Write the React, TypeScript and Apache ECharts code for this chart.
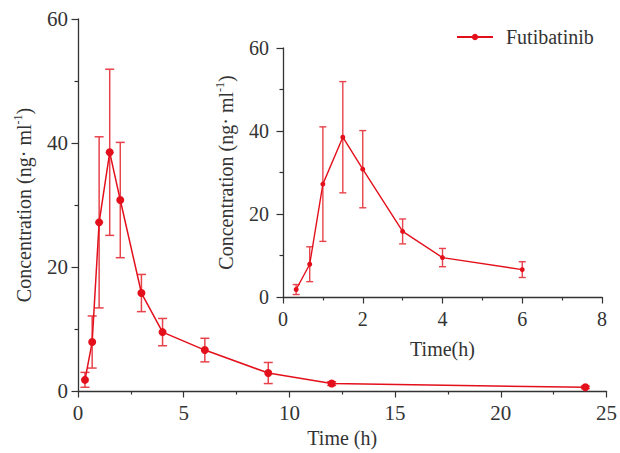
import React, { useEffect, useRef } from "react";
import * as echarts from "echarts";

const seriesName = "Futibatinib";
const timeH = [0.33, 0.67, 1, 1.5, 2, 3, 4, 6, 9, 12, 24];
const meanConc = [1.8, 7.9, 27.2, 38.5, 30.8, 15.8, 9.5, 6.6, 2.9, 1.2, 0.6];
const sdConc = [1.2, 4.2, 13.8, 13.4, 9.3, 3.0, 2.2, 1.9, 1.7, 0.3, 0.2];
const insetCount = 8; // points shown in inset (up to 6 h)

const FONT = "'Liberation Serif', 'DejaVu Serif', serif";
const RED = "#e3101c";
const ERR = "#e8434b";
const AX = "#333333";

function errRender(capHalf: number, width: number) {
  return (params: any, api: any) => {
    const x = api.value(0);
    const lo = api.coord([x, api.value(1)]);
    const hi = api.coord([x, api.value(2)]);
    const st = { stroke: ERR, lineWidth: width };
    return {
      type: "group",
      children: [
        { type: "line", shape: { x1: lo[0], y1: lo[1], x2: hi[0], y2: hi[1] }, style: st },
        { type: "line", shape: { x1: lo[0] - capHalf, y1: lo[1], x2: lo[0] + capHalf, y2: lo[1] }, style: st },
        { type: "line", shape: { x1: hi[0] - capHalf, y1: hi[1], x2: hi[0] + capHalf, y2: hi[1] }, style: st },
      ],
    };
  };
}

function axisCommon(interval: number, max: number, fontSize: number, margin: number) {
  return {
    type: "value" as const,
    min: 0,
    max,
    interval,
    splitLine: { show: false },
    axisLine: { show: true, onZero: false, lineStyle: { color: AX, width: 1.3 } },
    axisTick: { show: true, length: 6.5, lineStyle: { color: AX, width: 1.2 } },
    minorTick: { show: true, splitNumber: 2, length: 3.5, lineStyle: { color: AX, width: 1.2 } },
    minorSplitLine: { show: false },
    axisLabel: { color: AX, fontFamily: FONT, fontSize, margin },
  };
}

const nameStyle = { fontFamily: FONT, fontSize: 20, color: AX, fontWeight: "normal" };
const yNameRich = {
  a: { fontFamily: FONT, fontSize: 20, color: AX, fontWeight: "normal", lineHeight: 24 },
  s: { fontFamily: FONT, fontSize: 12, color: AX, fontWeight: "normal", verticalAlign: "top", lineHeight: 24, padding: [0, 0, 9, 0] },
};
const yName = "{a|Concentration (ng· ml}{s|-1}{a|)}";

export default function App() {
  const ref = useRef<HTMLDivElement>(null);
  useEffect(() => {
    if (!ref.current) return;
    const chart = echarts.init(ref.current, undefined, { renderer: "svg" });
    const mainLine = timeH.map((t, i) => [t, meanConc[i]]);
    const mainErr = timeH.map((t, i) => [t, meanConc[i] - sdConc[i], meanConc[i] + sdConc[i]]);
    const inLine = mainLine.slice(0, insetCount);
    const inErr = mainErr.slice(0, insetCount);

    chart.setOption({
      animation: false,
      backgroundColor: "#ffffff",
      legend: {
        data: [seriesName],
        left: 456,
        top: 27,
        padding: 0,
        itemWidth: 36,
        itemHeight: 8,
        textStyle: { fontFamily: FONT, fontSize: 20, color: AX, padding: [0, 0, 0, 8] },
      },
      grid: [
        { left: 78, right: 12, top: 19, bottom: 62 },
        { left: 283, right: 18, top: 48, bottom: 156 },
      ],
      xAxis: [
        {
          ...axisCommon(5, 25, 21, 11),
          gridIndex: 0,
          name: "Time (h)",
          nameLocation: "middle",
          nameGap: 35,
          nameTextStyle: nameStyle,
        },
        {
          ...axisCommon(2, 8, 20, 12),
          gridIndex: 1,
          name: "Time(h)",
          nameLocation: "middle",
          nameGap: 42,
          nameTextStyle: nameStyle,
        },
      ],
      yAxis: [
        {
          ...axisCommon(20, 60, 21, 10),
          gridIndex: 0,
          name: yName,
          nameLocation: "middle",
          nameGap: 42,
          nameTextStyle: { rich: yNameRich },
        },
        {
          ...axisCommon(20, 60, 20, 14),
          gridIndex: 1,
          name: yName,
          nameLocation: "middle",
          nameGap: 45,
          nameTextStyle: { rich: yNameRich },
        },
      ],
      series: [
        {
          type: "custom",
          xAxisIndex: 0,
          yAxisIndex: 0,
          renderItem: errRender(4.5, 1.5),
          data: mainErr,
          z: 1,
          silent: true,
        },
        {
          name: seriesName,
          type: "line",
          xAxisIndex: 0,
          yAxisIndex: 0,
          data: mainLine,
          symbol: "circle",
          symbolSize: 8,
          itemStyle: { color: RED },
          lineStyle: { color: RED, width: 1.5 },
          z: 2,
        },
        {
          type: "custom",
          xAxisIndex: 1,
          yAxisIndex: 1,
          renderItem: errRender(3.5, 1.4),
          data: inErr,
          z: 1,
          silent: true,
        },
        {
          name: seriesName + " inset",
          type: "line",
          xAxisIndex: 1,
          yAxisIndex: 1,
          data: inLine,
          symbol: "circle",
          symbolSize: 5,
          itemStyle: { color: RED },
          lineStyle: { color: RED, width: 1.4 },
          z: 2,
        },
      ],
    });
    return () => chart.dispose();
  }, []);
  return (
    <div
      ref={ref}
      style={{ position: "fixed", left: 0, top: 0, width: 620, height: 453, background: "#fff" }}
    />
  );
}
